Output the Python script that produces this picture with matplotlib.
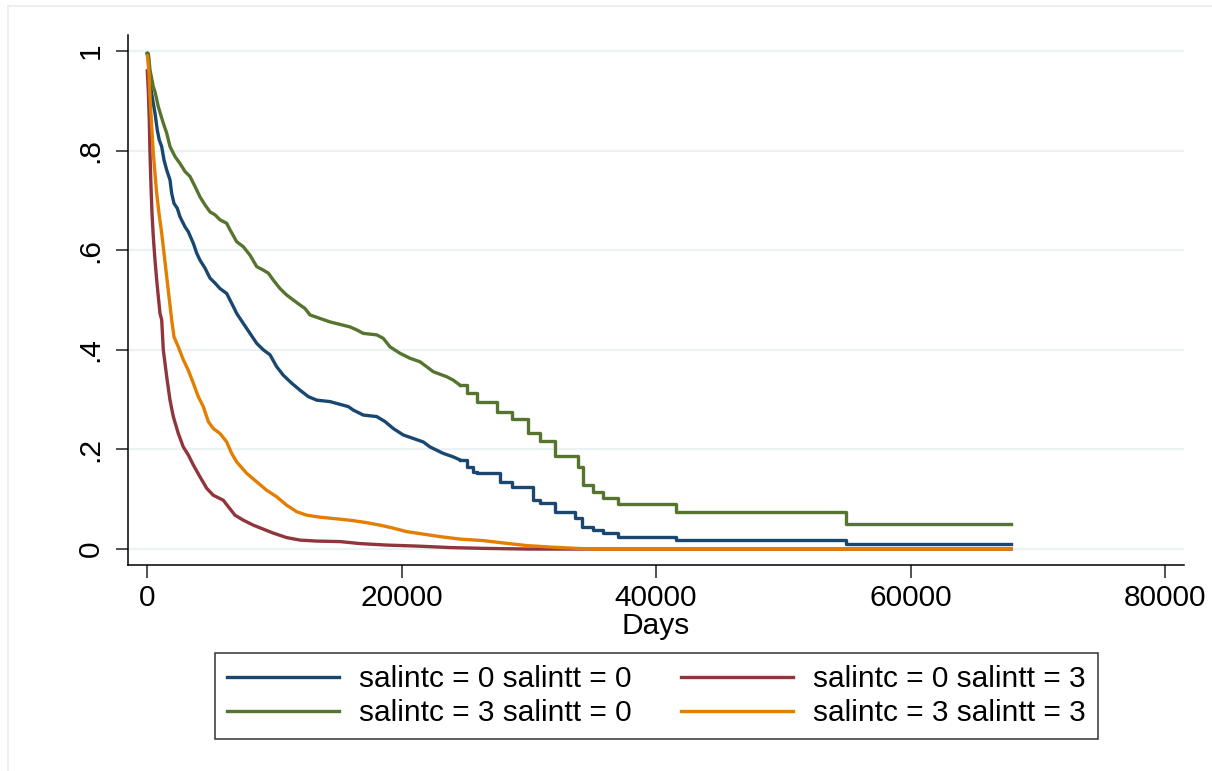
import numpy as np
import matplotlib.pyplot as plt
from matplotlib.patches import Rectangle

plt.rcParams['font.family'] = ['Liberation Sans', 'DejaVu Sans']

# Kaplan-Meier survival estimates (days, survival)
days_00 = [0, 79, 212, 422, 605, 786, 943, 1132, 1313, 1525, 1785, 1918, 2099, 2358, 2571,
           2964, 3223, 3616, 3884, 4143, 4536, 4929, 5322, 5715, 6242, 6502, 6761, 7028,
           7547, 8074, 8601, 9119, 9646, 10173, 10692, 11352, 12005, 12657, 13318, 14363,
           15802, 16195, 16981, 18035, 18687, 19340, 20126, 20912, 21698, 22225, 23270,
           24057, 24583, 25110, 25629, 25900, 27730, 28650, 30350, 30870, 32050, 33620,
           34150, 35060, 35850, 37030, 41540, 54900, 67900]
surv_00 = [0.995, 0.992, 0.935, 0.902, 0.875, 0.841, 0.821, 0.808, 0.781, 0.761, 0.741, 0.714,
           0.694, 0.684, 0.667, 0.647, 0.637, 0.614, 0.594, 0.580, 0.564, 0.544, 0.534, 0.523,
           0.513, 0.500, 0.487, 0.473, 0.453, 0.433, 0.413, 0.400, 0.390, 0.366, 0.349, 0.333,
           0.319, 0.306, 0.299, 0.296, 0.286, 0.279, 0.269, 0.266, 0.256, 0.242, 0.229, 0.222,
           0.215, 0.205, 0.192, 0.185, 0.179, 0.165, 0.155, 0.152, 0.135, 0.125, 0.098, 0.093,
           0.075, 0.062, 0.044, 0.038, 0.032, 0.025, 0.018, 0.011, 0.011]

days_03 = [0, 79, 157, 212, 291, 370, 472, 605, 739, 865, 998, 1132, 1258, 1525, 1785, 2044,
           2437, 2830, 3223, 3616, 4143, 4670, 5189, 5975, 6368, 6895, 7547, 8333, 9119, 9906,
           10959, 12005, 13318, 15150, 16720, 18820, 21180, 23800, 26410, 30000, 67900]
surv_03 = [0.96, 0.922, 0.861, 0.795, 0.728, 0.674, 0.627, 0.580, 0.540, 0.507, 0.473, 0.460,
           0.400, 0.346, 0.299, 0.266, 0.232, 0.205, 0.189, 0.169, 0.145, 0.122, 0.108, 0.098,
           0.085, 0.068, 0.058, 0.048, 0.040, 0.032, 0.023, 0.018, 0.016, 0.015, 0.011, 0.008,
           0.006, 0.003, 0.0014, 0.0, 0.0]

days_30 = [0, 79, 212, 472, 605, 865, 1258, 1525, 1785, 2178, 2571, 2964, 3357, 3750, 4143,
           4536, 4929, 5322, 5715, 6242, 6502, 7028, 7547, 8074, 8601, 9119, 9513, 9906, 10432,
           10959, 11478, 12005, 12398, 12791, 13577, 14363, 15935, 16462, 16981, 18035, 18553,
           19080, 19866, 20652, 21439, 21966, 22484, 23538, 24057, 24583, 25110, 25896, 27470,
           28650, 29950, 30870, 32050, 33880, 34280, 35060, 35850, 37030, 41540, 54900, 67900]
surv_30 = [0.995, 0.995, 0.962, 0.928, 0.918, 0.888, 0.855, 0.835, 0.808, 0.788, 0.774, 0.758,
           0.748, 0.728, 0.707, 0.691, 0.677, 0.671, 0.661, 0.654, 0.641, 0.617, 0.607, 0.590,
           0.567, 0.560, 0.554, 0.540, 0.523, 0.510, 0.500, 0.490, 0.483, 0.470, 0.463, 0.456,
           0.446, 0.440, 0.433, 0.430, 0.423, 0.406, 0.393, 0.383, 0.376, 0.366, 0.356, 0.346,
           0.339, 0.329, 0.313, 0.296, 0.276, 0.262, 0.232, 0.217, 0.187, 0.165, 0.129, 0.115,
           0.103, 0.090, 0.075, 0.051, 0.051]

days_33 = [0, 30, 134, 212, 345, 472, 605, 739, 920, 1132, 1313, 1525, 1706, 1918, 2099, 2437,
           2830, 3223, 3616, 4009, 4403, 4796, 5189, 5715, 6242, 6635, 7028, 7814, 8601, 9387,
           10173, 10959, 11745, 12531, 13577, 15150, 16195, 17248, 18294, 19340, 20393, 21439,
           23011, 24583, 26414, 27730, 29830, 31660, 33750, 35000, 67900]
surv_33 = [0.99, 0.985, 0.955, 0.908, 0.848, 0.795, 0.754, 0.714, 0.674, 0.634, 0.594, 0.547,
           0.507, 0.460, 0.426, 0.406, 0.380, 0.359, 0.333, 0.306, 0.286, 0.256, 0.242, 0.232,
           0.215, 0.192, 0.175, 0.152, 0.135, 0.118, 0.105, 0.088, 0.075, 0.068, 0.064, 0.060,
           0.057, 0.053, 0.048, 0.042, 0.035, 0.031, 0.025, 0.020, 0.017, 0.013, 0.007, 0.004,
           0.0014, 0.0, 0.0]

# day after which the steps are wide enough to draw as a staircase
step_from = [25000, 99999, 25000, 99999]

labels = ['salintc = 0 salintt = 0', 'salintc = 0 salintt = 3',
          'salintc = 3 salintt = 0', 'salintc = 3 salintt = 3']
colors = ['#1a476f', '#90353b', '#55752f', '#e37e00']

fig = plt.figure(figsize=(12.12, 7.71), dpi=100)
ax = fig.add_axes([128/1212, 1-565/771, (1184-128)/1212, (565-35)/771])

# faint outer border of the graph region
fig.patches.append(Rectangle((8/1212, -0.1), 1.2, 1-6/771+0.1, transform=fig.transFigure,
                             fill=False, edgecolor='#e6ecef', linewidth=1.2))

for yv in [0, 0.2, 0.4, 0.6, 0.8, 1.0]:
    ax.axhline(yv, color='#eaf2f3', linewidth=1.6, zorder=0)

series = [(days_00, surv_00), (days_03, surv_03), (days_30, surv_30), (days_33, surv_33)]
lines = []
for (d, s), lab, col, cut in zip(series, labels, colors, step_from):
    d = np.array(d)
    s = np.array(s)
    k = np.searchsorted(d, cut)
    ln, = ax.plot(d[:k], s[:k], color=col, linewidth=2.4, label=lab,
                  solid_joinstyle='round')
    if k < len(d):
        ax.plot(d[k-1:], s[k-1:], drawstyle='steps-post', color=col, linewidth=2.4)
    lines.append(ln)

ax.set_xlim(-1517, 81500)
ax.set_ylim(-0.032, 1.032)
ax.set_xticks([0, 20000, 40000, 60000, 80000])
ax.set_yticks([0, 0.2, 0.4, 0.6, 0.8, 1.0])
ax.set_yticklabels(['0', '.2', '.4', '.6', '.8', '1'], rotation=90, va='center')
ax.tick_params(axis='both', labelsize=21.5, length=9, width=1.1, color='#222222')
ax.tick_params(axis='y', pad=8)
ax.tick_params(axis='x', pad=5)
for side in ['top', 'right']:
    ax.spines[side].set_visible(False)
for side in ['left', 'bottom']:
    ax.spines[side].set_linewidth(1.1)
ax.set_xlabel('Days', fontsize=21.5, labelpad=0)

handles = [lines[0], lines[2], lines[1], lines[3]]
leg = fig.legend(handles, [h.get_label() for h in handles], loc='center',
                 bbox_to_anchor=(656.5/1212, 1-696/771), ncol=2, fontsize=21.5,
                 frameon=True, fancybox=False, edgecolor='black', handlelength=3.75,
                 handletextpad=0.67, columnspacing=1.67, labelspacing=0.2, borderpad=0.4)
leg.get_frame().set_linewidth(1.1)
for lh in leg.get_lines():
    lh.set_linewidth(2.4)

fig.savefig('out.png', dpi=100, facecolor='white')
